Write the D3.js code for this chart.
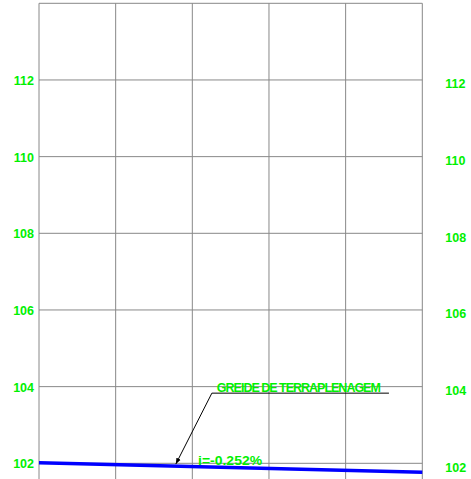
<!DOCTYPE html>
<html>
<head>
<meta charset="utf-8">
<script src="https://cdn.jsdelivr.net/npm/d3@7"></script>
<style>
  html, body { margin: 0; padding: 0; background: #fff; overflow: hidden; }
  svg { display: block; }
  .lbl { font-family: "Liberation Sans", Arial, sans-serif; font-size: 12.5px; fill: #00f000; }
</style>
</head>
<body>
<div id="chart"></div>
<script>
// Profile data (station in m, elevation in m)
const stations = [0, 20, 40, 60, 80, 100];
const elevTicks = [102, 104, 106, 108, 110, 112];
const gridLevels = [102, 104, 106, 108, 110, 112, 114];
const greide = [
  { x: 0, z: 102.015 },
  { x: 100, z: 101.765 }
];
const slopeLabel = "i=-0.252%";
const leaderLabel = "GREIDE DE TERRAPLENAGEM";
// leader: arrow tip on the grade line, knee, end of underline
const leader = [
  { x: 35.7, z: 101.98 },
  { x: 45.1, z: 103.83 },
  { x: 91.3, z: 103.83 }
];

const W = 471, H = 479;
const svg = d3.select("#chart").append("svg")
  .attr("width", W).attr("height", H);

const x = d3.scaleLinear().domain([0, 100]).range([39, 422.3]);
const y = d3.scaleLinear().domain([102, 114]).range([463.3, 3.3]);

svg.append("defs").append("marker")
  .attr("id", "arrow")
  .attr("viewBox", "0 0 10 10")
  .attr("refX", 10).attr("refY", 5)
  .attr("markerWidth", 6).attr("markerHeight", 6)
  .attr("markerUnits", "userSpaceOnUse")
  .attr("orient", "auto-start-reverse")
  .append("path").attr("d", "M0,1 L10,5 L0,9 Z").attr("fill", "#000");

// grid
const gGrid = svg.append("g").attr("stroke", "#888").attr("stroke-width", 1);
gGrid.selectAll("line.v").data(stations).enter().append("line")
  .attr("x1", d => x(d)).attr("x2", d => x(d))
  .attr("y1", y(114)).attr("y2", H);
gGrid.selectAll("line.h").data(gridLevels).enter().append("line")
  .attr("x1", x(0)).attr("x2", x(100))
  .attr("y1", d => y(d)).attr("y2", d => y(d));

// axes (labels only)
const left = svg.append("g").attr("transform", `translate(${x(0)},0)`)
  .call(d3.axisLeft(y).tickValues(elevTicks).tickSize(0).tickPadding(5));
left.select(".domain").remove();
left.selectAll("text").attr("class", "lbl").attr("font-weight", "bold")
  .attr("dy", "0.36em");

const right = svg.append("g").attr("transform", `translate(${x(100)},0)`)
  .call(d3.axisRight(y).tickValues(elevTicks).tickSize(0).tickPadding(23));
right.select(".domain").remove();
right.selectAll("text").attr("class", "lbl").attr("font-weight", "bold")
  .attr("dy", "0.62em");

// grade line
const line = d3.line().x(d => x(d.x)).y(d => y(d.z));
svg.append("path").datum(greide)
  .attr("d", line)
  .attr("fill", "none")
  .attr("stroke", "#0000ff")
  .attr("stroke-width", 3.4);

// leader
svg.append("path").datum(leader)
  .attr("d", line)
  .attr("fill", "none")
  .attr("stroke", "#000")
  .attr("stroke-width", 1)
  .attr("marker-start", "url(#arrow)");

svg.append("text")
  .attr("class", "lbl")
  .attr("x", x(leader[1].x) + 5)
  .attr("y", y(leader[1].z) - 1.5)
  .style("font-size", "12.5px")
  .attr("font-weight", "bold")
  .attr("textLength", 164)
  .attr("lengthAdjust", "spacing")
  .text(leaderLabel);

// slope label above the grade line
const slopeAt = 41.5;
const zAt = d3.scaleLinear().domain([greide[0].x, greide[1].x]).range([greide[0].z, greide[1].z]);
svg.append("text")
  .attr("class", "lbl")
  .attr("font-weight", "bold")
  .style("font-size", "13px")
  .attr("x", x(slopeAt))
  .attr("y", y(zAt(slopeAt)) - 1.5)
  .attr("textLength", 64)
  .attr("lengthAdjust", "spacingAndGlyphs")
  .text(slopeLabel);
</script>
</body>
</html>
